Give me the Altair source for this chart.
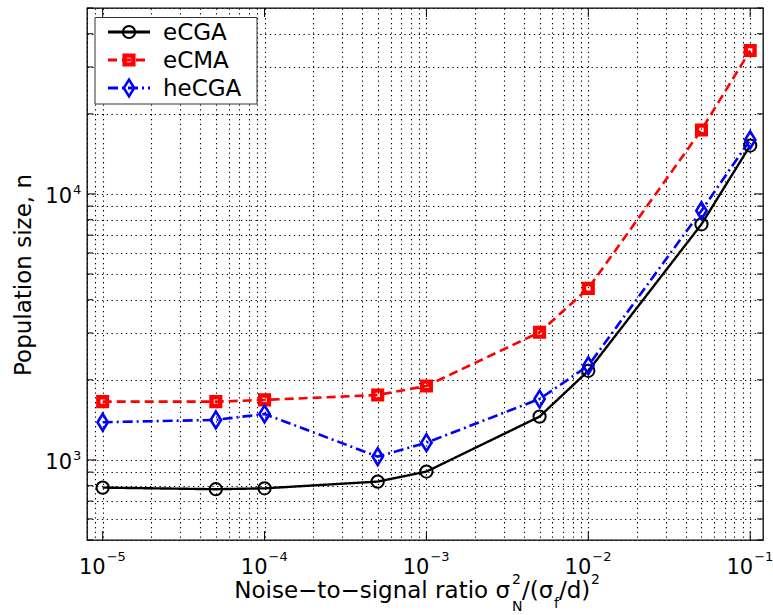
import altair as alt
import pandas as pd

# Noise-to-signal ratios at which each algorithm was run
x_vals = [1e-5, 5e-5, 1e-4, 5e-4, 1e-3, 5e-3, 1e-2, 5e-2, 1e-1]

# Required population size n for each algorithm
series_names = ["eCGA", "eCMA", "heCGA"]
ecga = [787, 776, 782, 829, 904, 1455, 2163, 7690, 15200]
ecma = [1656, 1656, 1681, 1754, 1897, 3020, 4416, 17400, 34600]
hecga = [1386, 1414, 1489, 1029, 1161, 1695, 2262, 8650, 15960]

# Axis ranges and tick labels (powers of ten)
x_domain = [8e-6, 0.12]
y_domain = [500, 50000]
x_ticks = [1e-5, 1e-4, 1e-3, 1e-2, 1e-1]
x_tick_exp = ["\u22125", "\u22124", "\u22123", "\u22122", "\u22121"]
y_ticks = [1e3, 1e4]
y_tick_exp = ["3", "4"]

W, H = 676, 532
FONT = "DejaVu Sans"

# log grid: every integer multiple of each power of ten inside the ranges
x_grid = [m * 10.0 ** k for k in range(-6, 0) for m in range(1, 10)
          if x_domain[0] * 0.999 <= m * 10.0 ** k <= x_domain[1] * 1.001]
y_grid = [m * 10.0 ** k for k in range(2, 5) for m in range(1, 10)
          if y_domain[0] <= m * 10.0 ** k <= y_domain[1]]
y_minor = [v for v in y_grid if v not in y_ticks]

xs = alt.Scale(type="log", domain=x_domain, nice=False, zero=False)
ys = alt.Scale(type="log", domain=y_domain, nice=False, zero=False)
grid_style = dict(grid=True, gridColor="black", gridDash=[1.3, 3.5], gridWidth=1.1,
                  gridOpacity=1, labels=False, ticks=False, domain=False, title=None)
x_axis = alt.Axis(values=x_grid, **grid_style)
y_axis = alt.Axis(values=y_grid, **grid_style)


def X(field):
    return alt.X(field, type="quantitative", scale=xs, axis=x_axis)


def Y(field):
    return alt.Y(field, type="quantitative", scale=ys, axis=y_axis)


def label(txt, x, y, size, align="left", angle=0):
    return alt.Chart(pd.DataFrame({"t": [txt]})).mark_text(
        align=align, baseline="alphabetic", fontSize=size, font=FONT,
        angle=angle, color="black"
    ).encode(x=alt.value(x), y=alt.value(y), text="t:N")


DIAMOND = "M0,-1L0.62,0L0,1L-0.62,0Z"
styles = {
    "eCGA": dict(color="#000000", dash=[1, 0], width=2.4, shape="circle", size=150, mw=2.0),
    "eCMA": dict(color="#ff0000", dash=[9, 5], width=2.6, shape="square", size=76, mw=4.4),
    "heCGA": dict(color="#0000ff", dash=[10, 4, 2, 4], width=2.6, shape=DIAMOND, size=280, mw=2.6),
}
values = {"eCGA": ecga, "eCMA": ecma, "heCGA": hecga}

layers = []

# axis ticks drawn inward on all four sides
xt = pd.DataFrame({"v": x_ticks})
ymaj = pd.DataFrame({"v": y_ticks})
ymin = pd.DataFrame({"v": y_minor})
tick = dict(color="black", strokeWidth=1)
layers += [
    alt.Chart(xt).mark_rule(**tick).encode(x=X("v"), y=alt.value(H), y2=alt.value(H - 9)),
    alt.Chart(xt).mark_rule(**tick).encode(x=X("v"), y=alt.value(0), y2=alt.value(9)),
    alt.Chart(ymaj).mark_rule(**tick).encode(y=Y("v"), x=alt.value(0), x2=alt.value(9)),
    alt.Chart(ymaj).mark_rule(**tick).encode(y=Y("v"), x=alt.value(W), x2=alt.value(W - 9)),
    alt.Chart(ymin).mark_rule(**tick).encode(y=Y("v"), x=alt.value(0), x2=alt.value(6)),
    alt.Chart(ymin).mark_rule(**tick).encode(y=Y("v"), x=alt.value(W), x2=alt.value(W - 6)),
]

# data series: lines with open markers
for name in series_names:
    s = styles[name]
    df = pd.DataFrame({"x": x_vals, "n": values[name]})
    layers.append(alt.Chart(df).mark_line(
        color=s["color"], strokeDash=s["dash"], strokeWidth=s["width"]
    ).encode(x=X("x"), y=Y("n")))
    layers.append(alt.Chart(df).mark_point(
        shape=s["shape"], size=s["size"], filled=False, color=s["color"],
        strokeWidth=s["mw"], opacity=1
    ).encode(x=X("x"), y=Y("n")))

# tick labels: "10" with a raised exponent
xl = pd.DataFrame({"v": x_ticks, "e": x_tick_exp})
yl = pd.DataFrame({"v": y_ticks, "e": y_tick_exp})
layers += [
    alt.Chart(xl).mark_text(align="right", baseline="alphabetic", dx=3, fontSize=21,
                            font=FONT, color="black").encode(
        x=X("v"), y=alt.value(H + 34), text=alt.value("10")),
    alt.Chart(xl).mark_text(align="left", baseline="alphabetic", dx=4, fontSize=13,
                            font=FONT, color="black").encode(
        x=X("v"), y=alt.value(H + 21), text="e:N"),
    alt.Chart(yl).mark_text(align="right", baseline="alphabetic", dy=9, fontSize=21,
                            font=FONT, color="black").encode(
        y=Y("v"), x=alt.value(-15), text=alt.value("10")),
    alt.Chart(yl).mark_text(align="left", baseline="alphabetic", dy=0, fontSize=13,
                            font=FONT, color="black").encode(
        y=Y("v"), x=alt.value(-14), text="e:N"),
]

# axis titles
layers += [
    label("Noise\u2212to\u2212signal ratio \u03c3", 423, 590, 23, align="right"),
    label("2", 425, 576, 14),
    label("N", 425, 603, 14),
    label("/(\u03c3", 435, 590, 23),
    label("f", 467, 600, 14),
    label("/d)", 472, 590, 23),
    label("2", 504, 576, 14),
    label("Population size, n", -56, 267, 23, align="center", angle=270),
]

# legend box with line samples, markers and names
layers.append(alt.Chart(pd.DataFrame({"a": [0]})).mark_rect(
    fill="white", stroke="#333333", strokeWidth=1
).encode(x=alt.value(8), x2=alt.value(170), y=alt.value(9.5), y2=alt.value(96)))
for i, name in enumerate(series_names):
    s = styles[name]
    ly = 24 + 28 * i
    one = pd.DataFrame({"t": [name]})
    layers.append(alt.Chart(one).mark_rule(
        color=s["color"], strokeDash=s["dash"], strokeWidth=s["width"] + 0.6
    ).encode(x=alt.value(21), x2=alt.value(63), y=alt.value(ly)))
    layers.append(alt.Chart(one).mark_point(
        shape=s["shape"], size=s["size"], filled=False, color=s["color"],
        strokeWidth=s["mw"], opacity=1
    ).encode(x=alt.value(42), y=alt.value(ly)))
    layers.append(alt.Chart(one).mark_text(
        align="left", baseline="alphabetic", fontSize=23, font=FONT, color="black"
    ).encode(x=alt.value(76), y=alt.value(ly + 8), text="t:N"))

chart = alt.layer(*layers).properties(
    width=W, height=H,
    autosize=alt.AutoSizeParams(type="none"),
    padding={"left": 87, "top": 8, "right": 10, "bottom": 75},
    background="white",
).configure_view(stroke="black", strokeWidth=1.3)

chart.save("out.html", embed_options={"renderer": "svg", "actions": False})
